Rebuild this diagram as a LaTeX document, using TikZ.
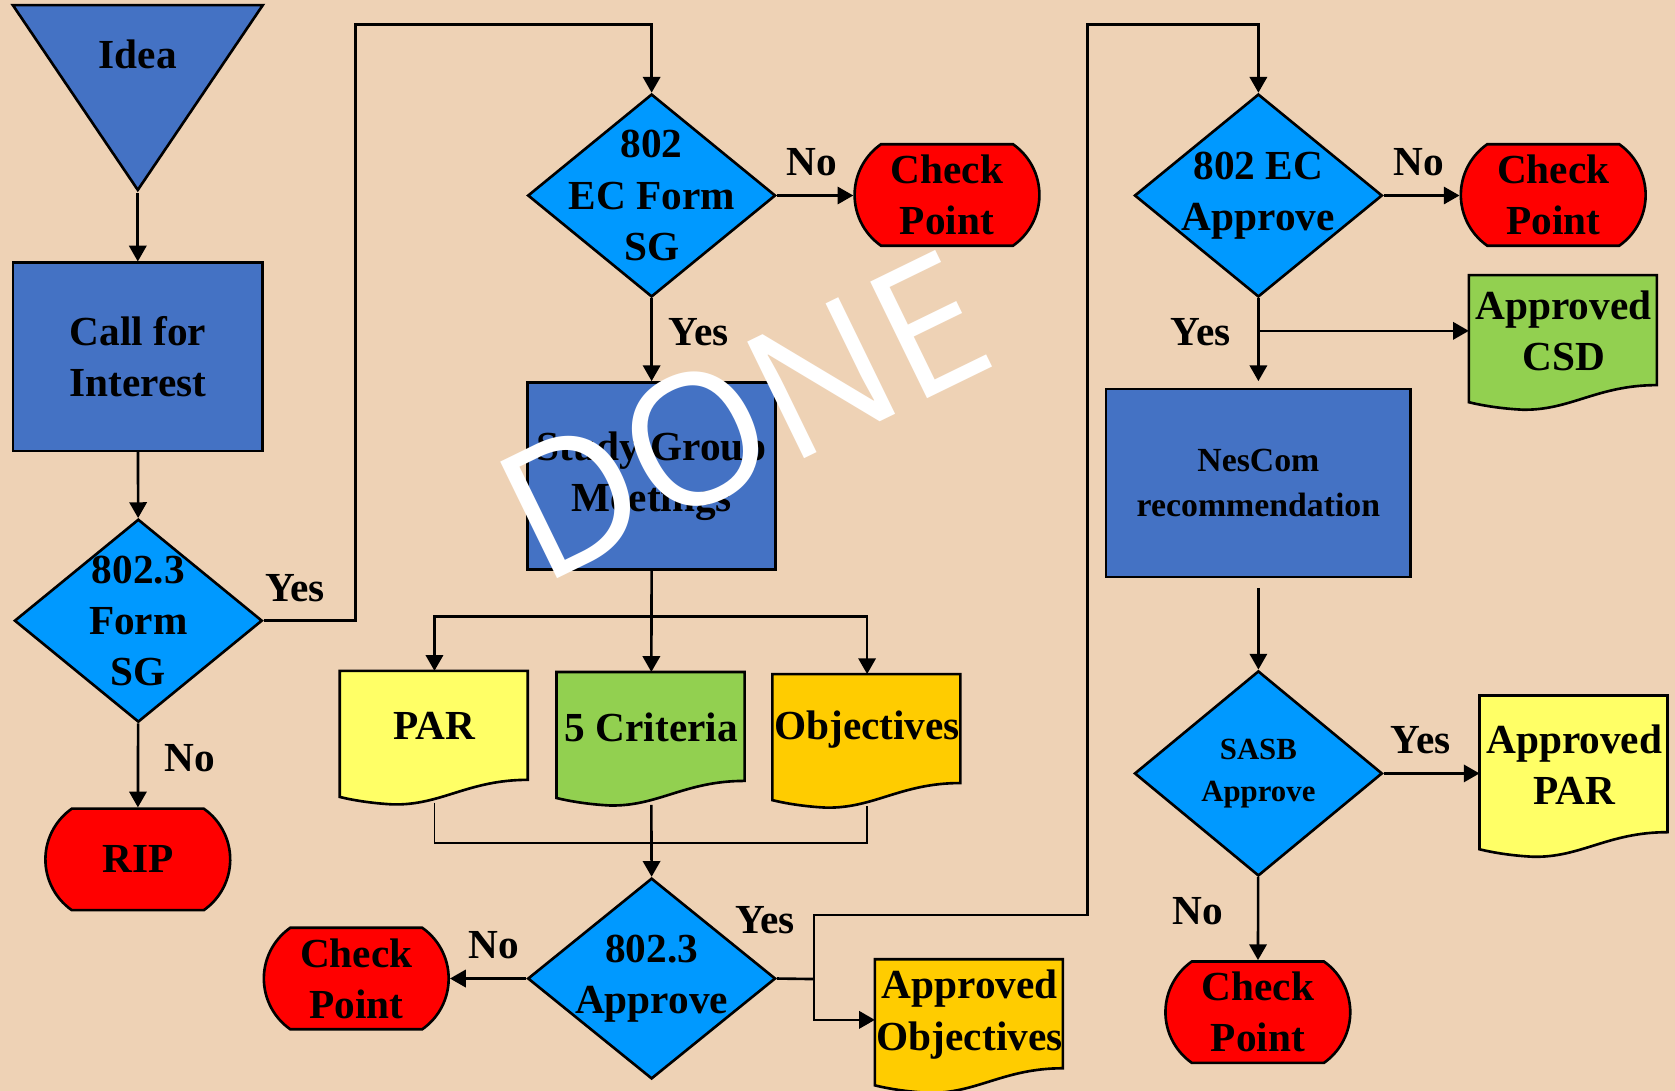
\documentclass[tikz,border=0pt]{standalone}
\usepackage{fontspec}
\setmainfont{Liberation Serif}
\newfontfamily\stampfont{Open Sans}
\usetikzlibrary{positioning,calc,arrows.meta,shapes.geometric,shapes.misc}

\definecolor{paper}{RGB}{238,210,181}
\definecolor{procblue}{RGB}{68,114,196}
\definecolor{decblue}{RGB}{0,153,255}
\definecolor{stopred}{RGB}{255,0,0}
\definecolor{docyellow}{RGB}{255,255,102}
\definecolor{docgreen}{RGB}{146,208,80}
\definecolor{docgold}{RGB}{255,204,0}

% document symbol: name, top left corner, fill, box height, text
\newcommand{\docnode}[5]{%
  \begin{scope}[shift={(#2)}]
    \filldraw[fill=#3, line width=0.7pt] (0,0) -- (1.76,0) -- (1.76,-#4)
      .. controls (1.2,-#4) and (0.95,-#4-0.24) .. (0.5,-#4-0.23)
      .. controls (0.3,-#4-0.22) and (0.12,-#4-0.19) .. (0,-#4-0.16) -- cycle;
    \node[doctext, minimum height=#4cm, anchor=north west] (#1) at (0,0) {#5};
  \end{scope}}

\begin{document}
\begin{tikzpicture}[
    txt/.style={font=\bfseries\fontsize{11}{13.6}\selectfont, align=center, inner sep=0pt},
    shape line/.style={draw, line width=0.7pt},
    process/.style={txt, shape line, rectangle, fill=procblue, minimum width=2.34cm, minimum height=1.76cm},
    decision/.style={shape line, diamond, fill=decblue, inner sep=0pt, minimum width=2.32cm, minimum height=1.9cm},
    dtext/.style={txt},
    stop/.style={txt, shape line, rounded rectangle, rounded rectangle arc length=110, fill=stopred, minimum width=1.73cm, minimum height=0.95cm},
    doctext/.style={txt, minimum width=1.76cm},
    answer/.style={txt},
    wire/.style={line width=0.7pt},
    arrow/.style={wire, -{Triangle[length=4.2pt,width=4.6pt]}},
  ]
\fill[paper] (0,0) rectangle (15.68,-10.21);
\useasboundingbox (0,0) rectangle (15.68,-10.21);

% left column
\node[txt, shape line, fill=procblue, isosceles triangle, shape border rotate=270,
      isosceles triangle stretches, minimum width=2.34cm, minimum height=1.73cm,
      anchor=apex] (idea) at (1.29,-1.81) {Idea};
\node[process] (call) at (1.29,-3.34) {Call for\\Interest};
\node[decision, label={[dtext]center:802.3\\Form\\SG}] (form) at (1.295,-5.81) {};
\node[stop] (rip) at (1.29,-8.045) {RIP};

% middle column
\node[decision, label={[dtext]center:802\\EC Form\\SG}] (ecform) at (6.10,-1.83) {};
\node[stop] (cpa) at (8.865,-1.825) {Check\\Point};
\node[process, minimum width=2.32cm, minimum height=1.75cm] (sgm) at (6.10,-4.455) {Study Group\\Meetings};
\docnode{par}{3.18,-6.28}{docyellow}{1.02}{PAR}
\docnode{crit}{5.21,-6.29}{docgreen}{1.02}{5 Criteria}
\docnode{obj}{7.23,-6.31}{docgold}{1.02}{Objectives}
\node[decision, minimum height=1.88cm, label={[dtext]center:802.3\\Approve}] (appr) at (6.10,-9.16) {};
\node[stop] (cpb) at (3.335,-9.16) {Check\\Point};
\docnode{aobj}{8.19,-8.98}{docgold}{1.02}{Approved\\Objectives}

% right column
\node[decision, label={[dtext]center:802 EC\\Approve}] (ecappr) at (11.78,-1.83) {};
\node[stop] (cpc) at (14.54,-1.825) {Check\\Point};
\docnode{csd}{13.75,-2.575}{docgreen}{1.03}{Approved\\CSD}
\node[process, minimum width=2.85cm, font=\bfseries\fontsize{9}{11.9}\selectfont] (nescom) at (11.78,-4.52) {NesCom\\recommendation};
\node[decision, minimum height=1.92cm, label={[dtext, font=\bfseries\fontsize{8.2}{11.3}\selectfont]center:SASB\\Approve}] (sasb) at (11.78,-7.24) {};
\docnode{apar}{13.85,-6.51}{docyellow}{1.28}{Approved\\PAR}
\node[stop] (cpd) at (11.775,-9.475) {Check\\Point};

% answers
\node[answer] (noa) at (1.78,-7.10) {No};
\node[answer] (yesa-t) at (2.76,-5.51) {Yes};
\node[answer] (nob) at (7.60,-1.52) {No};
\node[answer] (yesb-t) at (6.54,-3.11) {Yes};
\node[answer] (noc) at (4.62,-8.85) {No};
\node[answer] (yesc-t) at (7.16,-8.61) {Yes};
\node[answer] (nod) at (13.28,-1.52) {No};
\node[answer] (yesd-t) at (11.24,-3.11) {Yes};
\node[answer] (yese-t) at (13.30,-6.93) {Yes};
\node[answer] (noe) at (11.21,-8.53) {No};

% connectors
\coordinate (yesa) at (3.33,-0.23);
\coordinate (split) at (6.09,-5.77);
\coordinate (merge) at (6.09,-7.89);
\coordinate (yesb) at (7.62,-9.165);
\coordinate (yesc) at (10.18,-0.23);

\draw[arrow] (idea.apex) -- (call);
\draw[arrow] (call) -- (form);
\draw[arrow] (form) -- (rip);
\draw[arrow] (form.east) -| (yesa) -| (ecform.north);
\draw[arrow] (ecform.east) -- (ecform.east -| cpa.west);
\draw[arrow] (ecform) -- (sgm);
\draw[arrow] (sgm.south) -- (crit.north);
\draw[arrow] (split) -| (par.north);
\draw[arrow] (split) -| (obj.north);
\draw[thin] ($(par.south)+(0,-0.2)$) |- (merge) -| ($(obj.south)+(0,-0.2)$);
\draw[arrow] ($(crit.south)+(0,-0.21)$) -- (appr.north);
\draw[arrow] (appr.west) -- (cpb.east);
\draw[wire] (appr.east) -- (yesb);
\draw[arrow] (yesb) |- ($(aobj.west)+(0,-0.05)$);
\draw[arrow] (yesb) -- ++(0,0.6) -| (yesc) -| (ecappr.north);
\draw[arrow] (ecappr.east) -- (ecappr.east -| cpc.west);
\draw[arrow, shorten >=0.06cm] (ecappr) -- (nescom);
\draw[arrow] (ecappr.south |- csd.west) -- (csd.west);
\draw[arrow, shorten <=0.09cm] (nescom) -- (sasb);
\draw[arrow] (sasb.east) -- (sasb.east -| apar.west);
\draw[arrow] (sasb) -- (cpd);

% stamp
\node[font=\stampfont\fontsize{48.4}{50}\selectfont, text=white, rotate=26, inner sep=0pt] (stamp) at (6.96,-3.89) {DONE};
\end{tikzpicture}
\end{document}
